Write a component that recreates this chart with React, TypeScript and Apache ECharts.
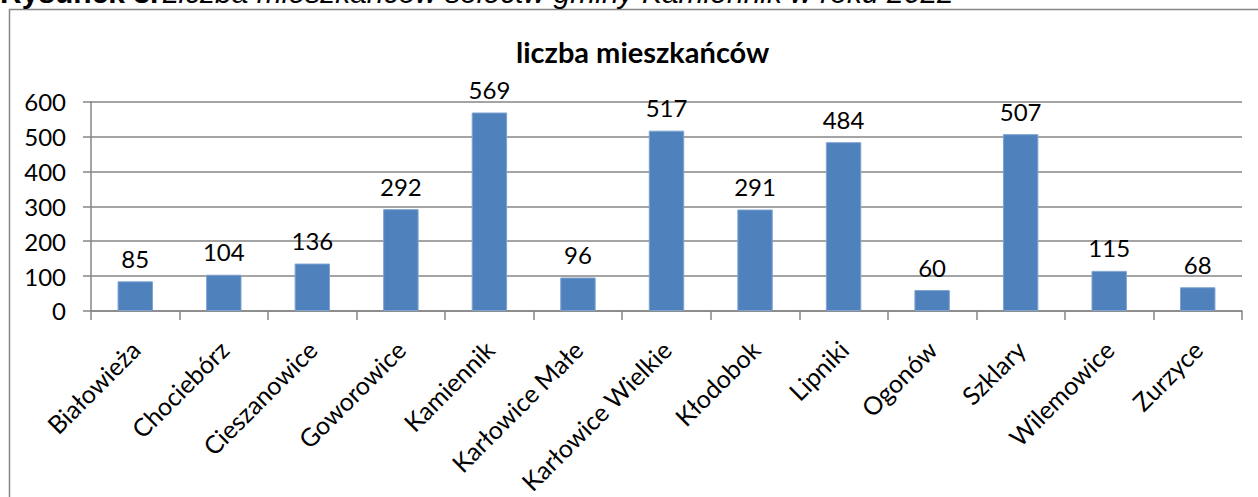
import React, { useEffect, useRef } from "react";
import * as echarts from "echarts";

const categories = [
  "Białowieża",
  "Chociebórz",
  "Cieszanowice",
  "Goworowice",
  "Kamiennik",
  "Karłowice Małe",
  "Karłowice Wielkie",
  "Kłodobok",
  "Lipniki",
  "Ogonów",
  "Szklary",
  "Wilemowice",
  "Zurzyce",
];
const residents = [85, 104, 136, 292, 569, 96, 517, 291, 484, 60, 507, 115, 68];
const seriesName = "liczba mieszkańców";
const captionBold = "Rysunek 3.";
const captionItalic = "Liczba mieszkańców sołectw gminy Kamiennik w roku 2022";

const FONT = "Lato, 'Open Sans', sans-serif";
const GRAY = "#868686";

export default function App() {
  const ref = useRef<HTMLDivElement>(null);
  useEffect(() => {
    document.body.style.margin = "0";
    const chart = echarts.init(ref.current!, undefined, { renderer: "svg" });
    chart.setOption({
      animation: false,
      backgroundColor: "#ffffff",
      title: {
        text: seriesName,
        left: 511,
        top: 32,
        textStyle: { fontFamily: FONT, fontSize: 29, fontWeight: "bold", color: "#000" },
      },
      graphic: [
        {
          type: "rect",
          shape: { x: 9.5, y: 9.5, width: 1300, height: 600 },
          style: { fill: "none", stroke: GRAY, lineWidth: 1.5 },
          silent: true,
        },
        {
          type: "text",
          x: 0,
          y: 7,
          style: {
            text: "{b|" + captionBold + "} {i|" + captionItalic + "}",
            verticalAlign: "bottom",
            rich: {
              b: { fontFamily: "'Liberation Sans', Arial, sans-serif", fontWeight: "bold", fontSize: 30, fill: "#000" },
              i: { fontFamily: "'Liberation Sans', Arial, sans-serif", fontStyle: "italic", fontSize: 30, fill: "#000" },
            },
          },
        },
      ],
      grid: { left: 91, right: 16, top: 101.7, bottom: 183.7, containLabel: false },
      xAxis: {
        type: "category",
        data: categories,
        axisLine: { lineStyle: { color: GRAY, width: 1.5 } },
        axisTick: { show: true, length: 9, lineStyle: { color: GRAY, width: 1.5 } },
        axisLabel: {
          rotate: 45,
          interval: 0,
          margin: 34,
          fontFamily: FONT,
          fontSize: 25,
          color: "#000",
        },
      },
      yAxis: {
        type: "value",
        min: 0,
        max: 600,
        interval: 100,
        axisLine: { show: true, lineStyle: { color: GRAY, width: 1.5 } },
        axisTick: { show: true, length: 8, lineStyle: { color: GRAY, width: 1.5 } },
        splitLine: { lineStyle: { color: GRAY, width: 1.5 } },
        axisLabel: { margin: 25, fontFamily: FONT, fontSize: 24, color: "#000" },
      },
      series: [
        {
          name: seriesName,
          type: "bar",
          data: residents,
          barWidth: "40%",
          itemStyle: { color: "#4F81BD", borderColor: "#7EA3D1", borderWidth: 1 },
          label: {
            show: true,
            position: "top",
            distance: 11,
            fontFamily: FONT,
            fontSize: 24,
            color: "#000",
          },
        },
      ],
    });
    return () => chart.dispose();
  }, []);
  return <div ref={ref} style={{ width: 1258, height: 497 }} />;
}
